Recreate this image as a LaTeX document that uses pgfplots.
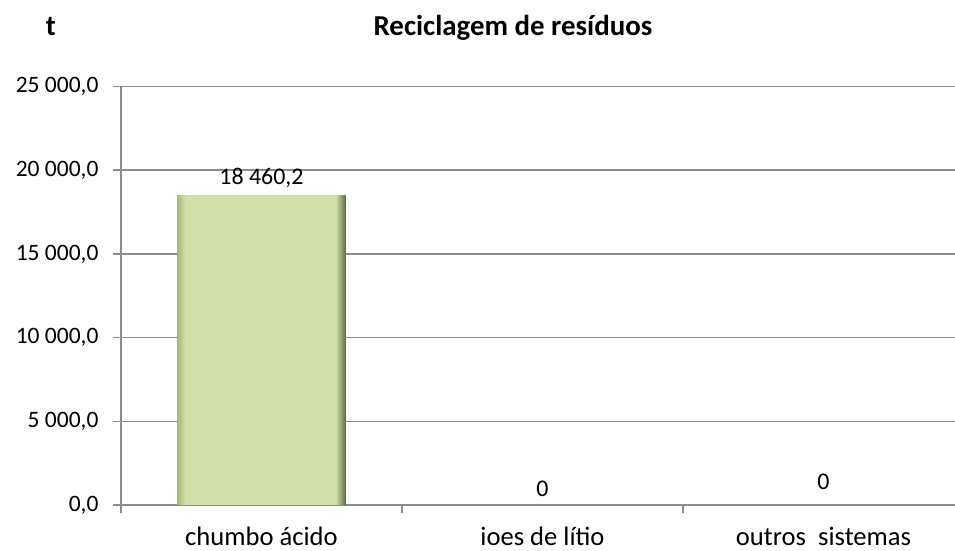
\documentclass[border=0pt]{standalone}
\usepackage{pgfplots}
\pgfplotsset{compat=1.18}
\usepackage{fontspec}
\setmainfont{Carlito}
\definecolor{gridgray}{HTML}{8C8C8C}
\definecolor{barmain}{HTML}{D1E0A6}
\definecolor{barleft}{HTML}{A9B97A}
\definecolor{barright}{HTML}{5E6B3E}
\pgfdeclarehorizontalshading{bevel}{100bp}{color(0bp)=(barleft); color(25bp)=(barleft); color(27.5bp)=(barmain); color(72bp)=(barmain); color(75bp)=(barright); color(100bp)=(barright)}
\begin{document}
\begin{tikzpicture}[x=1bp,y=1bp]
\path[use as bounding box] (0,0) rectangle (955,551);
\node[font=\fontsize{29}{34}\selectfont\bfseries] at (513,523) {Reciclagem de resíduos};
\node[font=\fontsize{29}{34}\selectfont\bfseries] at (51,524) {t};
\begin{axis}[
  at={(121bp,46bp)}, anchor=south west,
  scale only axis, width=834bp, height=418.5bp,
  xmin=-0.5, xmax=2.468, ymin=0, ymax=25000,
  axis lines*=left,
  axis line style={-, draw=gridgray, line width=1.5bp},
  ymajorgrids, grid style={draw=gridgray, line width=1.5bp},
  ytick={0,5000,...,25000},
  scaled y ticks=false,
  tick align=outside, major tick length=8bp,
  tick style={draw=gridgray, line width=1.5bp},
  yticklabel={\fontsize{23.6}{28}\selectfont\pgfmathprintnumber[fixed,fixed zerofill,precision=1,1000 sep={\ },dec sep={,},assume math mode=true]{\tick}},
  yticklabel style={xshift=-11bp},
  xtick={-0.5,0.5,1.5}, xticklabels={},
  extra x ticks={0,1,2},
  extra x tick labels={chumbo ácido, ioes de lítio, outros~~sistemas},
  extra x tick style={tick style={draw=none}},
  xticklabel style={font=\fontsize{26.7}{32}\selectfont, inner sep=0pt, yshift=-14bp},
  ybar, bar width=0.6,
  nodes near coords, point meta=explicit symbolic,
  every node near coord/.append style={font=\fontsize{24}{29}\selectfont, color=black, anchor=south, yshift=5bp},
]
\addplot[shading=bevel, draw=none, bar shift=0pt] coordinates {(0,18460.2) [18 460,2]};
\addplot[draw=none, fill=none, bar shift=0pt] coordinates {(1,0) [0]};
\addplot[draw=none, fill=none, bar shift=0pt, every node near coord/.append style={yshift=7bp}] coordinates {(2,0) [0]};
\end{axis}
\end{tikzpicture}
\end{document}
